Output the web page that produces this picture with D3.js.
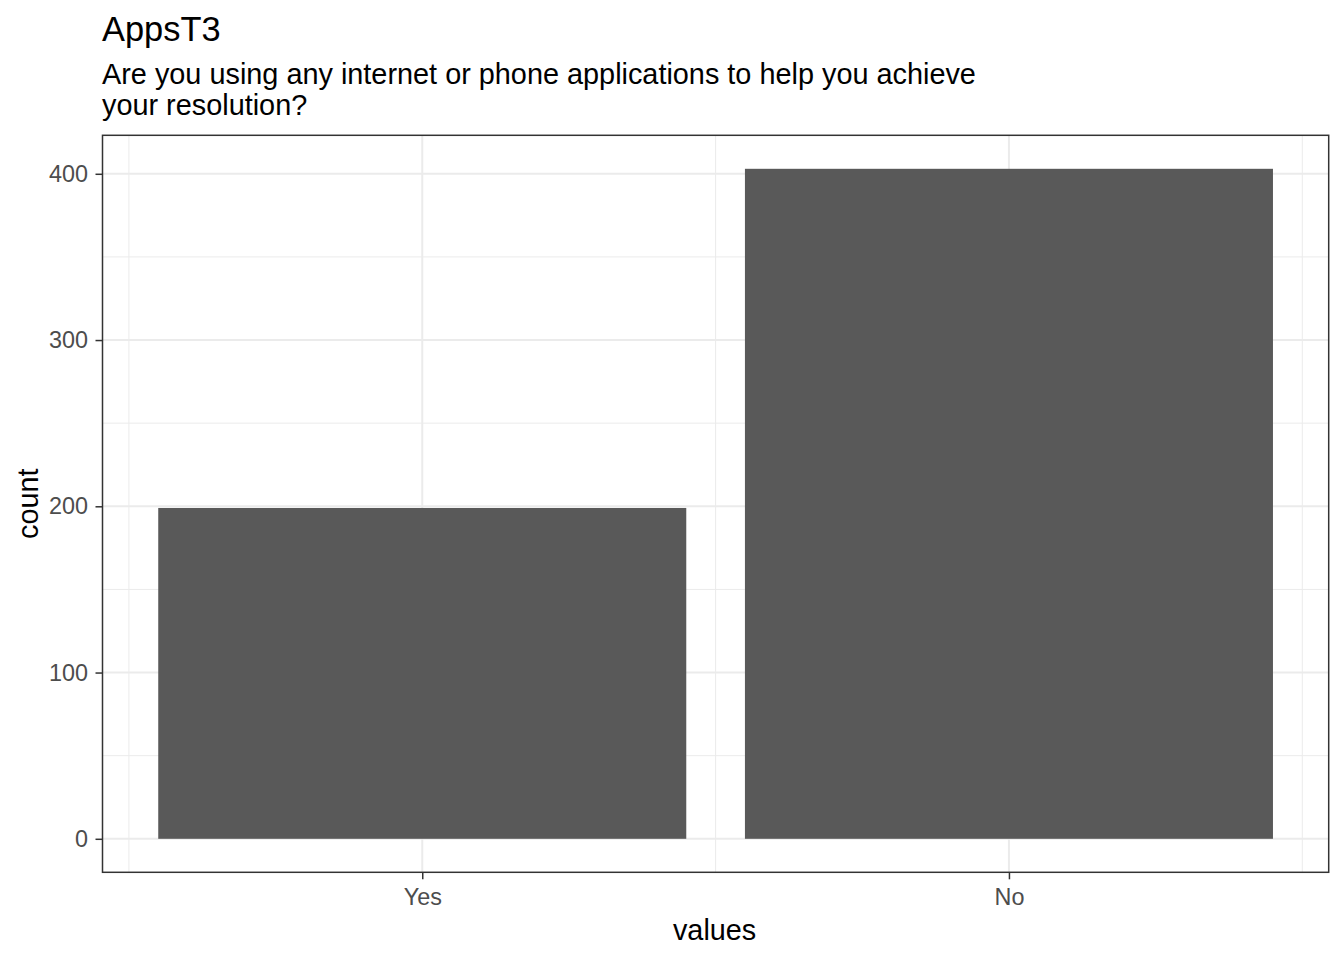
<!DOCTYPE html>
<html>
<head>
<meta charset="utf-8">
<script src="https://cdn.jsdelivr.net/npm/d3@7"></script>
<style>
  html, body { margin: 0; padding: 0; background: #ffffff; }
  svg { display: block; font-family: "Liberation Sans", Arial, sans-serif; }
</style>
</head>
<body>
<svg id="chart" width="1344" height="960"></svg>
<script>
// ---- data ----
const categories = ["Yes", "No"];
const counts = [199, 403];
const yTicks = [0, 100, 200, 300, 400];
const yMinor = [50, 150, 250, 350];
const titleText = "AppsT3";
const subtitleLines = ["Are you using any internet or phone applications to help you achieve", "your resolution?"];
const xLabel = "values";
const yLabel = "count";

// ---- layout ----
const svg = d3.select("#chart");
const panel = { left: 102.5, right: 1328.7, top: 135.3, bottom: 872.3 };

// continuous position for discrete categories (1, 2), bar width 0.9, 5% expansion
const barWidth = 0.9;
const lo = 1 - barWidth / 2, hi = categories.length + barWidth / 2;
const padX = (hi - lo) * 0.05;
const x = d3.scaleLinear().domain([lo - padX, hi + padX]).range([panel.left, panel.right]);

const yMax = d3.max(counts);
const padY = yMax * 0.05;
const y = d3.scaleLinear().domain([-padY, yMax + padY]).range([panel.bottom, panel.top]);

const xMinor = d3.range(0.5, categories.length + 1, 1);

const g = svg.append("g");

// panel background
g.append("rect").attr("x", panel.left).attr("y", panel.top)
  .attr("width", panel.right - panel.left).attr("height", panel.bottom - panel.top)
  .attr("fill", "#ffffff");

// minor grid
g.selectAll(".ymin").data(yMinor).enter().append("line")
  .attr("x1", panel.left).attr("x2", panel.right)
  .attr("y1", d => y(d)).attr("y2", d => y(d))
  .attr("stroke", "#EBEBEB").attr("stroke-width", 1);
g.selectAll(".xmin").data(xMinor).enter().append("line")
  .attr("y1", panel.top).attr("y2", panel.bottom)
  .attr("x1", d => x(d)).attr("x2", d => x(d))
  .attr("stroke", "#EBEBEB").attr("stroke-width", 1);

// major grid
g.selectAll(".ymaj").data(yTicks).enter().append("line")
  .attr("x1", panel.left).attr("x2", panel.right)
  .attr("y1", d => y(d)).attr("y2", d => y(d))
  .attr("stroke", "#EBEBEB").attr("stroke-width", 2);
g.selectAll(".xmaj").data(categories).enter().append("line")
  .attr("y1", panel.top).attr("y2", panel.bottom)
  .attr("x1", (d, i) => x(i + 1)).attr("x2", (d, i) => x(i + 1))
  .attr("stroke", "#EBEBEB").attr("stroke-width", 2);

// bars
g.selectAll(".bar").data(counts).enter().append("rect")
  .attr("x", (d, i) => x(i + 1 - barWidth / 2))
  .attr("width", (d, i) => x(i + 1 + barWidth / 2) - x(i + 1 - barWidth / 2))
  .attr("y", d => y(d))
  .attr("height", d => y(0) - y(d))
  .attr("fill", "#595959");

// panel border
g.append("rect").attr("x", panel.left).attr("y", panel.top)
  .attr("width", panel.right - panel.left).attr("height", panel.bottom - panel.top)
  .attr("fill", "none").attr("stroke", "#333333").attr("stroke-width", 1.5);

// y axis
const yAxis = d3.axisLeft(y).tickValues(yTicks).tickSize(7).tickPadding(7.5).tickFormat(d3.format("d"));
const ya = svg.append("g").attr("transform", `translate(${panel.left},0)`).call(yAxis);
ya.select(".domain").remove();
ya.selectAll(".tick line").attr("stroke", "#333333").attr("stroke-width", 1.5);
ya.selectAll(".tick text").attr("fill", "#4D4D4D").style("font-size", "23.4px")
  .style("font-family", "Liberation Sans, Arial, sans-serif");

// x axis
const xAxis = d3.axisBottom(x).tickValues(categories.map((d, i) => i + 1)).tickSize(7).tickPadding(9)
  .tickFormat((d) => categories[d - 1]);
const xa = svg.append("g").attr("transform", `translate(0,${panel.bottom})`).call(xAxis);
xa.select(".domain").remove();
xa.selectAll(".tick line").attr("stroke", "#333333").attr("stroke-width", 1.5);
xa.selectAll(".tick text").attr("fill", "#4D4D4D").style("font-size", "23.4px")
  .style("font-family", "Liberation Sans, Arial, sans-serif");

// axis titles
svg.append("text").attr("x", (panel.left + panel.right) / 2 - 1).attr("y", 940)
  .attr("text-anchor", "middle").attr("fill", "#000").style("font-size", "28.8px").text(xLabel);
svg.append("text")
  .attr("transform", `translate(38,${(panel.top + panel.bottom) / 2}) rotate(-90)`)
  .attr("text-anchor", "middle").attr("fill", "#000").style("font-size", "28.8px").text(yLabel);

// title and subtitle
svg.append("text").attr("x", 102).attr("y", 41).attr("fill", "#000")
  .style("font-size", "34.4px").text(titleText);
svg.append("text").attr("x", 102).attr("y", 84).attr("fill", "#000")
  .style("font-size", "28.85px")
  .selectAll("tspan").data(subtitleLines).enter().append("tspan")
  .attr("x", 102).attr("dy", (d, i) => i === 0 ? 0 : 30.5).text(d => d);
</script>
</body>
</html>
